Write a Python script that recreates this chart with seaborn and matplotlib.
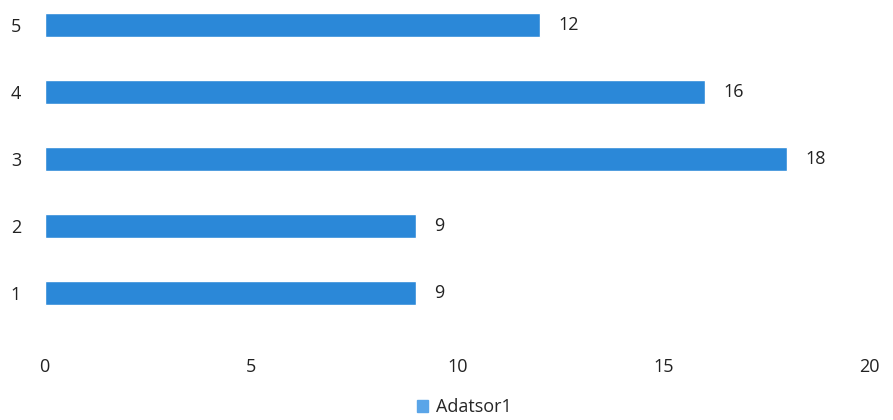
import numpy as np
import pandas as pd
import matplotlib
matplotlib.use("Agg")
import matplotlib.pyplot as plt
import seaborn as sns

# --- DATA --- #
categories = [1, 2, 3, 4, 5]
values = [9, 9, 18, 16, 12]
series_name = "Adatsor1"
x_ticks = [0, 5, 10, 15, 20]

bar_color = "#2b88d8"

df = pd.DataFrame({"cat": categories, "val": values, "series": series_name})

sns.set_style("white")
plt.rcParams["font.family"] = ["Open Sans", "DejaVu Sans"]

fig = plt.figure(figsize=(8.93, 4.2), dpi=100)
ax = fig.add_axes([0.050, 0.214, 0.924, 0.786])

sns.barplot(data=df, x="val", y="cat", hue="series", orient="h",
            native_scale=True, width=0.35, palette=[bar_color],
            saturation=1, ax=ax)

# --- VALUE LABELS --- #
for c, v in zip(categories, values):
    ax.text(v + 0.45, c, str(v), va="center", ha="left",
            fontsize=13, color="#222222")

ax.set_xlim(0, 20)
ax.set_ylim(0.448, 5.373)
ax.set_xticks(x_ticks)
ax.set_yticks(categories)
ax.set_yticklabels([str(c) for c in categories])
ax.tick_params(axis="both", length=0, labelsize=13, colors="#222222")
ax.tick_params(axis="x", pad=20)
ax.tick_params(axis="y", pad=17)
ax.set_xlabel("")
ax.set_ylabel("")
for s in ax.spines.values():
    s.set_visible(False)
ax.grid(False)

# --- LEGEND --- #
leg = ax.get_legend()
if leg is not None:
    leg.remove()
handles = [plt.Rectangle((0, 0), 1, 1, color="#5aa5e8")]
fig.legend(handles, [series_name], loc="lower center", bbox_to_anchor=(0.52, -0.03),
           frameon=False, fontsize=13, handlelength=0.6, handleheight=0.6,
           handletextpad=0.4)

fig.savefig("out.png", dpi=100)
